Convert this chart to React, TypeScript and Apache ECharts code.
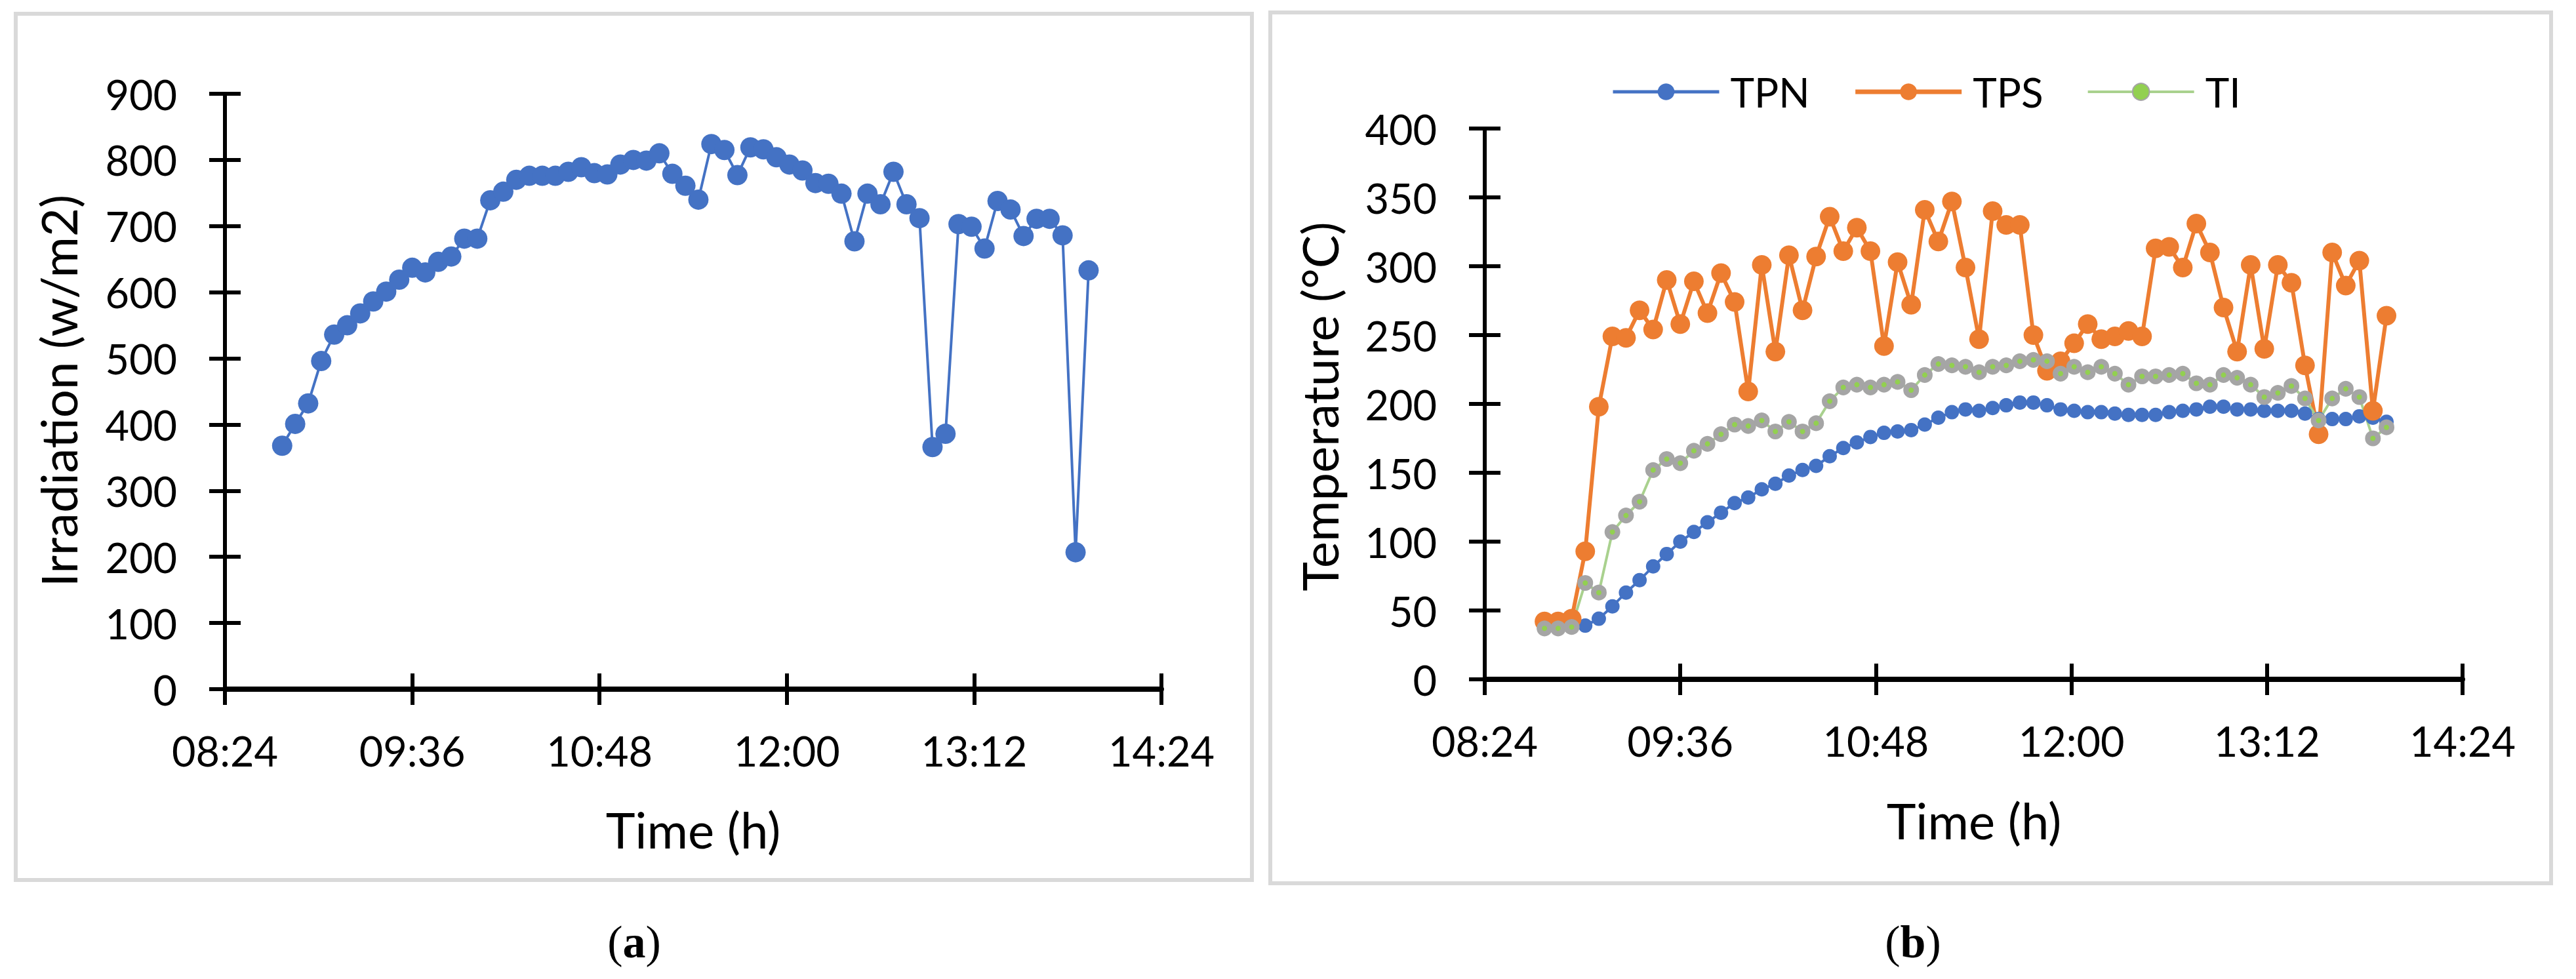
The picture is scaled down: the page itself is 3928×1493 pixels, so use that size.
import React, { useEffect, useRef } from "react";
import * as echarts from "echarts";

// ---------- data ----------
const times = [
  "08:46", "08:51", "08:56", "09:01", "09:06", "09:11", "09:16", "09:21", "09:26", "09:31",
  "09:36", "09:41", "09:46", "09:51", "09:56", "10:01", "10:06", "10:11", "10:16", "10:21",
  "10:26", "10:31", "10:36", "10:41", "10:46", "10:51", "10:56", "11:01", "11:06", "11:11",
  "11:16", "11:21", "11:26", "11:31", "11:36", "11:41", "11:46", "11:51", "11:56", "12:01",
  "12:06", "12:11", "12:16", "12:21", "12:26", "12:31", "12:36", "12:41", "12:46", "12:51",
  "12:56", "13:01", "13:06", "13:11", "13:16", "13:21", "13:26", "13:31", "13:36", "13:41",
  "13:46", "13:51", "13:56",
];

const irradiation = [
  368, 401, 432, 496, 536, 550, 568, 586, 601, 619,
  637, 630, 646, 654, 681, 681, 739, 752, 770, 776,
  776, 776, 782, 789, 780, 778, 793, 800, 799, 810,
  779, 761, 740, 824, 815, 777, 819, 816, 804, 793,
  784, 765, 764, 749, 677, 749, 733, 782, 733, 712,
  366, 386, 703, 699, 666, 738, 725, 685, 711, 711,
  686, 207, 633,
];

const tpn = [
  37, 37, 38, 39, 44, 53, 63, 72, 82, 91,
  100, 107, 114, 121, 128, 132, 138, 142, 148, 152,
  155, 162, 168, 172, 176, 179, 180, 181, 185, 190,
  194, 196, 195, 197, 199, 201, 201, 199, 196, 195,
  194, 194, 193, 192, 192, 192, 194, 195, 196, 198,
  198, 196, 196, 195, 195, 195, 193, 189, 189, 189,
  191, 190, 187,
];

const tps = [
  42, 42, 44, 93, 198, 249, 248, 268, 254, 290,
  258, 289, 266, 295, 274, 209, 301, 238, 308, 268,
  307, 336, 311, 328, 311, 242, 303, 272, 341, 318,
  347, 299, 247, 340, 330, 330, 250, 224, 231, 244,
  258, 247, 249, 253, 249, 313, 314, 299, 331, 310,
  270, 238, 301, 240, 301, 288, 228, 178, 310, 286,
  304, 195, 264,
];

const ti = [
  37, 37, 38, 70, 63, 107, 119, 129, 152, 160,
  157, 166, 171, 178, 185, 184, 188, 180, 187, 180,
  186, 202, 212, 214, 212, 214, 216, 210, 221, 229,
  228, 227, 223, 227, 228, 231, 232, 231, 222, 227,
  223, 227, 222, 214, 220, 220, 221, 222, 215, 214,
  221, 219, 214, 205, 208, 213, 204, 188, 204, 211,
  205, 175, 183,
];

const xTickLabels = ["08:24", "09:36", "10:48", "12:00", "13:12", "14:24"];
const irrTicks = [0, 100, 200, 300, 400, 500, 600, 700, 800, 900];
const tempTicks = [0, 50, 100, 150, 200, 250, 300, 350, 400];
const seriesNames = ["TPN", "TPS", "TI"];

// ---------- helpers ----------
const toMin = (t: string) => {
  const [h, m] = t.split(":").map(Number);
  return h * 60 + m;
};
const fmtTime = (v: number) => {
  const h = Math.floor(v / 60);
  const m = Math.round(v - h * 60);
  return String(h).padStart(2, "0") + ":" + String(m).padStart(2, "0");
};
const pairs = (vals: number[]) => times.map((t, i) => [toMin(t), vals[i]]);

const FONT = "Lato";
const xMin = toMin(xTickLabels[0]);
const xMax = toMin(xTickLabels[xTickLabels.length - 1]);
const xStep = toMin(xTickLabels[1]) - xMin;

const makeX = (gridIndex: number, overlay: boolean) => ({
  type: "value",
  gridIndex,
  min: xMin,
  max: xMax,
  interval: xStep,
  axisLine: { show: !overlay, onZero: false, lineStyle: { color: "#000", width: 8 } },
  axisTick: { show: true, inside: overlay, length: 24, lineStyle: { color: "#000", width: 6 } },
  axisLabel: {
    show: !overlay,
    margin: 62,
    fontFamily: FONT,
    fontSize: 63,
    color: "#000",
    formatter: (v: number) => fmtTime(v),
  },
  splitLine: { show: false },
});

const makeY = (gridIndex: number, overlay: boolean, ticks: number[]) => ({
  type: "value",
  gridIndex,
  min: ticks[0],
  max: ticks[ticks.length - 1],
  interval: ticks[1] - ticks[0],
  axisLine: { show: !overlay, onZero: false, lineStyle: { color: "#000", width: 6 } },
  axisTick: { show: true, inside: overlay, length: 24, lineStyle: { color: "#000", width: 6 } },
  axisLabel: {
    show: !overlay,
    margin: 73,
    fontFamily: FONT,
    fontSize: 63,
    color: "#000",
  },
  splitLine: { show: false },
});

const gridA = { left: 343, top: 143, width: 1428, height: 908 };
const gridB = { left: 2264, top: 196, width: 1491, height: 840 };

const captionRich = {
  p: { fontFamily: "Liberation Serif", fontSize: 70, fill: "#000" },
  b: { fontFamily: "Liberation Serif", fontSize: 70, fontWeight: "bold", fill: "#000" },
};

export default function App() {
  const ref = useRef<HTMLDivElement>(null);

  useEffect(() => {
    if (!ref.current) return;
    const chart = echarts.init(ref.current, undefined, { renderer: "svg" });

    const option: any = {
      animation: false,
      backgroundColor: "#ffffff",
      grid: [gridA, gridB, gridA, gridB],
      xAxis: [makeX(0, false), makeX(1, false), makeX(2, true), makeX(3, true)],
      yAxis: [
        makeY(0, false, irrTicks),
        makeY(1, false, tempTicks),
        makeY(2, true, irrTicks),
        makeY(3, true, tempTicks),
      ],
      legend: {
        data: [
          { name: seriesNames[0], lineStyle: { width: 5 } },
          { name: seriesNames[1], lineStyle: { width: 7 } },
          { name: seriesNames[2], lineStyle: { width: 4 } },
        ],
        left: 2452,
        top: 104,
        itemWidth: 162,
        itemHeight: 32,
        itemGap: 66,
        lineStyle: { width: 5 },
        textStyle: { fontFamily: FONT, fontSize: 62, color: "#000", padding: [0, 0, 0, 12] },
      },
      series: [
        {
          name: "Irradiation",
          type: "line",
          xAxisIndex: 0,
          yAxisIndex: 0,
          data: pairs(irradiation),
          symbol: "circle",
          symbolSize: 31,
          lineStyle: { color: "#4472C4", width: 4 },
          itemStyle: { color: "#4472C4" },
        },
        {
          name: seriesNames[0],
          type: "line",
          xAxisIndex: 1,
          yAxisIndex: 1,
          data: pairs(tpn),
          symbol: "circle",
          symbolSize: 22,
          lineStyle: { color: "#4472C4", width: 4 },
          itemStyle: { color: "#4472C4" },
        },
        {
          name: seriesNames[1],
          type: "line",
          xAxisIndex: 1,
          yAxisIndex: 1,
          data: pairs(tps),
          symbol: "circle",
          symbolSize: 30,
          lineStyle: { color: "#ED7D31", width: 6 },
          itemStyle: { color: "#ED7D31" },
        },
        {
          name: seriesNames[2],
          type: "line",
          xAxisIndex: 1,
          yAxisIndex: 1,
          data: pairs(ti),
          symbol: "circle",
          symbolSize: 16,
          lineStyle: { color: "#A9D18E", width: 4 },
          itemStyle: { color: "#92D050", borderColor: "#A5A5A5", borderWidth: 8 },
        },
      ],
      graphic: [
        {
          type: "rect",
          shape: { x: 24, y: 21, width: 1885, height: 1321 },
          style: { fill: "none", stroke: "#d9d9d9", lineWidth: 6 },
          silent: true,
        },
        {
          type: "rect",
          shape: { x: 1937, y: 19, width: 1953, height: 1328 },
          style: { fill: "none", stroke: "#d9d9d9", lineWidth: 6 },
          silent: true,
        },
        {
          type: "text",
          x: 88,
          y: 596,
          rotation: Math.PI / 2,
          style: {
            text: "Irradiation (w/m2)",
            fontFamily: FONT,
            fontSize: 76,
            fill: "#000",
            align: "center",
            verticalAlign: "middle",
          },
        },
        {
          type: "text",
          x: 2011,
          y: 620,
          rotation: Math.PI / 2,
          style: {
            text: "Temperature (°C)",
            fontFamily: FONT,
            fontSize: 76,
            fill: "#000",
            align: "center",
            verticalAlign: "middle",
          },
        },
        {
          type: "text",
          x: 1057,
          y: 1264,
          style: {
            text: "Time (h)",
            fontFamily: FONT,
            fontSize: 76,
            fill: "#000",
            align: "center",
            verticalAlign: "middle",
          },
        },
        {
          type: "text",
          x: 3010,
          y: 1250,
          style: {
            text: "Time (h)",
            fontFamily: FONT,
            fontSize: 76,
            fill: "#000",
            align: "center",
            verticalAlign: "middle",
          },
        },
        {
          type: "text",
          x: 967,
          y: 1436,
          style: {
            text: "{p|(}{b|a}{p|)}",
            align: "center",
            verticalAlign: "middle",
            rich: captionRich,
          },
        },
        {
          type: "text",
          x: 2917,
          y: 1436,
          style: {
            text: "{p|(}{b|b}{p|)}",
            align: "center",
            verticalAlign: "middle",
            rich: captionRich,
          },
        },
      ],
    };

    chart.setOption(option);
    return () => chart.dispose();
  }, []);

  return (
    <div
      ref={ref}
      style={{ position: "fixed", left: 0, top: 0, width: 3928, height: 1493, background: "#fff" }}
    />
  );
}
